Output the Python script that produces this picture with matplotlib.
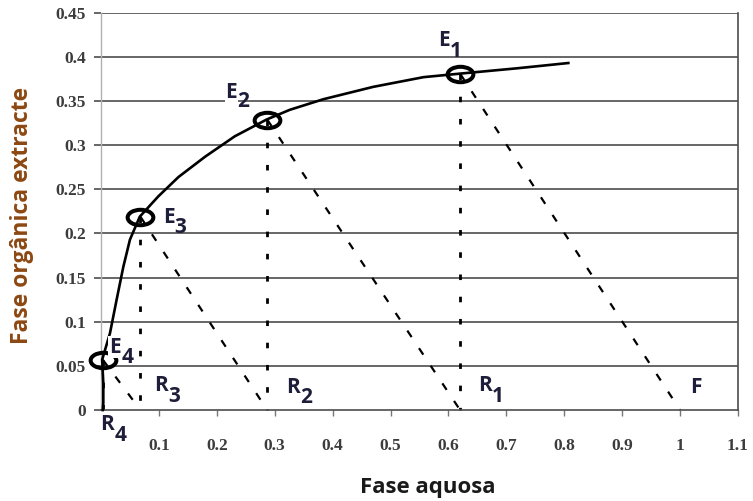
import numpy as np
import matplotlib
matplotlib.use('Agg')
import matplotlib.pyplot as plt
from matplotlib.path import Path
import matplotlib.transforms as mtransforms

# equilibrium curve
curve_x = [0.003, 0.004, 0.004, 0.002, 0.0155, 0.027, 0.0385, 0.050, 0.067, 0.099, 0.134,
           0.180, 0.231, 0.286, 0.326, 0.384, 0.470, 0.557, 0.620, 0.718, 0.807]
curve_y = [0.0, 0.008, 0.030, 0.057, 0.087, 0.125, 0.162, 0.193, 0.219, 0.242, 0.264,
           0.287, 0.310, 0.329, 0.340, 0.352, 0.366, 0.377, 0.381, 0.387, 0.393]

# extract points E1..E4
E_x = [0.620, 0.287, 0.068, 0.003]
E_y = [0.381, 0.329, 0.219, 0.057]
# raffinate points R1..R4 and feed F
R_x = [0.620, 0.287, 0.068, 0.003]
F_x = 1.0

xticks = [0.1, 0.2, 0.3, 0.4, 0.5, 0.6, 0.7, 0.8, 0.9, 1.0, 1.1]
xtick_labels = ['0.1', '0.2', '0.3', '0.4', '0.5', '0.6', '0.7', '0.8', '0.9', '1', '1.1']
yticks = [0, 0.05, 0.1, 0.15, 0.2, 0.25, 0.3, 0.35, 0.4, 0.45]
ytick_labels = ['0', '0.05', '0.1', '0.15', '0.2', '0.25', '0.3', '0.35', '0.4', '0.45']

# text labels: (main, sub, x, y, sub_x, sub_y)
labels = [
    ('E', '1', 0.592, 0.418, 0.612, 0.406),
    ('E', '2', 0.225, 0.360, 0.246, 0.349),
    ('E', '3', 0.117, 0.2175, 0.137, 0.207),
    ('E', '4', 0.024, 0.071, 0.046, 0.060),
    ('R', '1', 0.663, 0.028, 0.685, 0.015),
    ('R', '2', 0.332, 0.025, 0.355, 0.0136),
    ('R', '3', 0.104, 0.028, 0.126, 0.015),
    ('R', '4', 0.010, -0.016, 0.034, -0.029),
    ('F', '', 1.028, 0.025, 0, 0),
]

fig = plt.figure(figsize=(7.53, 5.01), dpi=100)
ax = fig.add_axes([101/753, 1-410/501, 637/753, (410-12.7)/501])
ax.set_xlim(0, 1.1)
ax.set_ylim(0, 0.45)

for y in yticks[1:]:
    ax.axhline(y, color='#4d4d4d', lw=1.2, zorder=1)

ax.spines['top'].set_visible(False)
ax.spines['left'].set_color('#b0b0b0')
ax.spines['left'].set_linewidth(1.0)
ax.spines['right'].set_color('#4d4d4d')
ax.spines['right'].set_linewidth(1.2)
ax.spines['bottom'].set_color('#4d4d4d')
ax.spines['bottom'].set_linewidth(1.2)

ax.set_xticks(xticks)
ax.set_xticklabels(xtick_labels)
ax.set_yticks(yticks)
ax.set_yticklabels(ytick_labels)
ax.tick_params(axis='x', direction='out', length=4, width=1, color='#777777', pad=16)
ax.tick_params(axis='y', direction='out', length=5, width=1.2, color='#4d4d4d', pad=6)
for t in ax.get_xticklabels() + ax.get_yticklabels():
    t.set_family('Liberation Serif')
    t.set_fontsize(12.5)
    t.set_fontweight('bold')
    t.set_color('#3c3c3c')

# vertical dotted lines from each E down to its R
for ex, ey in zip(E_x, E_y):
    ax.plot([ex, ex], [ey, 0], color='black', lw=2.0, ls=(0, (2, 6)), zorder=2, clip_on=False)

# tie lines: E1->F, E2->R1, E3->R2, E4->R3
ends = [F_x] + R_x[:3]
for ex, ey, rx in zip(E_x, E_y, ends):
    ax.plot([ex, rx], [ey, 0], color='black', lw=1.6, ls=(0, (3.5, 6)), zorder=2)

ax.plot(curve_x, curve_y, color='black', lw=1.9, zorder=3, clip_on=False,
        solid_joinstyle='round')

ell = Path.unit_circle().transformed(mtransforms.Affine2D().scale(1, 0.6))
ax.plot(E_x, E_y, ls='none', marker=ell, ms=18.5, mfc='none', mec='black', mew=2.9,
        zorder=4, clip_on=False)

lab_font = dict(family='Open Sans', fontsize=15, fontweight='bold', color='#1e1e3a',
                ha='center', va='center', zorder=5)
for main, sub, x, y, sx, sy in labels:
    ax.text(x, y, main, bbox=dict(facecolor='white', edgecolor='none', pad=0.5), clip_on=False, **lab_font)
    if sub:
        ax.text(sx, sy, sub, clip_on=False, **lab_font)

fig.text(428/753, 1-493/501, 'Fase aquosa', family='Open Sans', fontsize=16,
         fontweight='bold', color='#1a1a1a', ha='center', va='baseline')
fig.text(22/753, 1-215/501, 'Fase orgânica extracte', family='Open Sans', fontsize=16.5,
         fontweight='bold', color='#8c4812', rotation=90, ha='center', va='center')

fig.savefig('out.png', dpi=100)
